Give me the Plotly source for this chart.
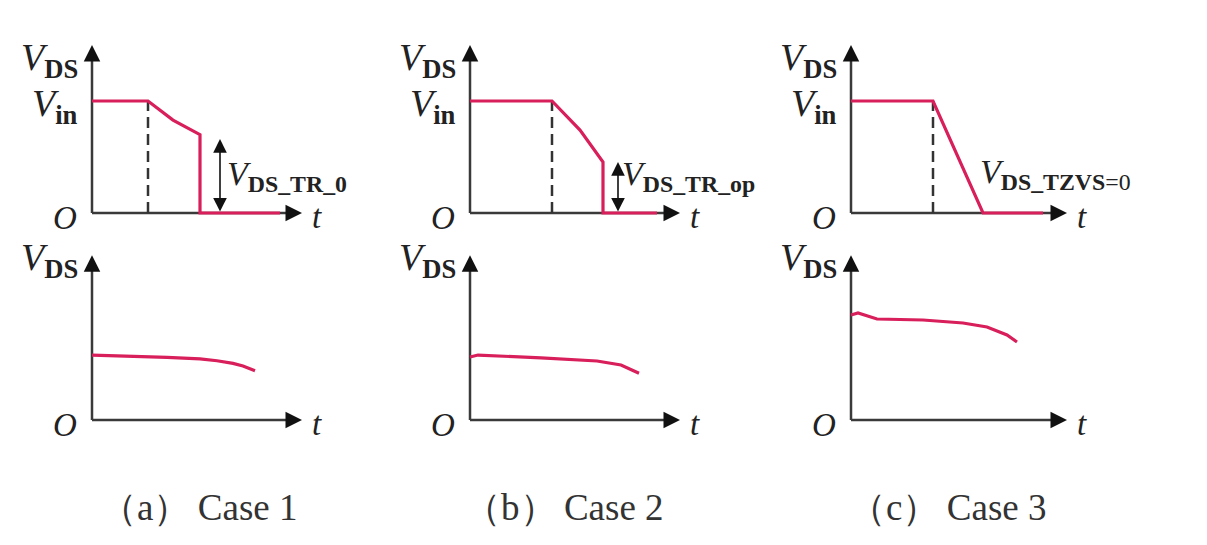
import plotly.graph_objects as go

# the page body adds an 8 px margin, so the figure is drawn 16 px smaller
W, H = 1207, 545
PAD = 8
FW, FH = W - 2 * PAD, H - 2 * PAD

# ---- waveform data (t in arbitrary time units, v in units of Vin) ----
# top row: V_DS during turn-on transition
t_top_1 = [0, 2.8, 4.05, 5.4, 5.4, 9.4]
v_top_1 = [1, 1, 0.83, 0.70, 0, 0]
t_top_2 = [0, 4.1, 5.5, 6.65, 6.65, 9.35]
v_top_2 = [1, 1, 0.74, 0.455, 0, 0]
t_top_3 = [0, 4.1, 6.6, 9.6]
v_top_3 = [1, 1, 0, 0]

# bottom row: V_DS envelope
t_bot_1 = [0, 2.05, 3.75, 5.4, 6.25, 7.05, 7.55, 8.15]
v_bot_1 = [0.580, 0.571, 0.560, 0.545, 0.529, 0.506, 0.482, 0.440]
t_bot_2 = [0, 0.4, 3.55, 6.35, 7.55, 7.9, 8.45]
v_bot_2 = [0.563, 0.580, 0.554, 0.527, 0.491, 0.462, 0.418]
t_bot_3 = [0, 0.35, 1.3, 3.6, 5.6, 6.8, 7.8, 8.3]
v_bot_3 = [0.938, 0.955, 0.902, 0.893, 0.866, 0.830, 0.759, 0.696]

t_switch = [2.8, 4.1, 4.1]          # dashed line: start of the fall
t_tr = [6.4, 7.4]                   # residual-voltage double arrows (case 1, 2)
v_tr = [0.66, 0.455]
t_axis_end = [10.5, 10.5, 10.8]
v_axis_end = [1.5, 1.47]

captions = ["（a）\u2009Case 1", "（b）\u2009Case 2", "（c）\u2009Case 3"]
tr_labels = ["<i>V</i><sub><b>DS_TR_0</b></sub>",
             "<i>V</i><sub><b>DS_TR_op</b></sub>",
             "<i>V</i><sub><b>DS_TZVS</b>=0</sub>"]

tops = [(t_top_1, v_top_1), (t_top_2, v_top_2), (t_top_3, v_top_3)]
bots = [(t_bot_1, v_bot_1), (t_bot_2, v_bot_2), (t_bot_3, v_bot_3)]

RED = '#d81e5b'
AX = '#3a3a3a'
FONT = 'Liberation Serif'

# pixel layout of each small panel (window pixels)
SX, SY = 20, 112
X_RANGE = [-3, 12]
Y_RANGES = [[-0.15, 1.6], [-0.15, 1.55]]
ox_list = [92, 470, 851]
oy_list = [213, 420]


def pxx(x):
    return (x - PAD) / FW


def pxy(y):
    return 1 - (y - PAD) / FH


fig = go.Figure()
annotations = []


def lab(text, x, y, xanchor='center', size=38, color='#222'):
    return dict(text=text, x=pxx(x), y=pxy(y), xref='paper', yref='paper',
                xanchor=xanchor, yanchor='middle', showarrow=False,
                font=dict(family=FONT, size=size, color=color))


for row in range(2):
    for col in range(3):
        k = row * 3 + col + 1
        ox, oy = ox_list[col], oy_list[row]
        yr = Y_RANGES[row]
        xname = 'xaxis' if k == 1 else f'xaxis{k}'
        yname = 'yaxis' if k == 1 else f'yaxis{k}'
        xr = 'x' if k == 1 else f'x{k}'
        yrf = 'y' if k == 1 else f'y{k}'
        fig.update_layout({
            xname: dict(domain=[pxx(ox + X_RANGE[0] * SX), pxx(ox + X_RANGE[1] * SX)],
                        range=X_RANGE, visible=False, anchor=yrf, fixedrange=True),
            yname: dict(domain=[pxy(oy - yr[0] * SY), pxy(oy - yr[1] * SY)],
                        range=yr, visible=False, anchor=xr, fixedrange=True),
        })
        tx = t_axis_end[col]
        ty = v_axis_end[row]
        # axis lines
        fig.add_trace(go.Scatter(x=[0, tx - 0.3], y=[0, 0], mode='lines',
                                 line=dict(color=AX, width=2.5), xaxis=xr, yaxis=yrf,
                                 showlegend=False, hoverinfo='skip'))
        fig.add_trace(go.Scatter(x=[0, 0], y=[0, ty - 0.05], mode='lines',
                                 line=dict(color=AX, width=2.5), xaxis=xr, yaxis=yrf,
                                 showlegend=False, hoverinfo='skip'))
        # arrowheads
        annotations.append(dict(x=tx, y=0, ax=tx - 0.5, ay=0, xref=xr, yref=yrf,
                                axref=xr, ayref=yrf, text='', showarrow=True,
                                arrowhead=2, arrowsize=1.5, arrowwidth=2.2, arrowcolor='#111'))
        annotations.append(dict(x=0, y=ty, ax=0, ay=ty - 0.1, xref=xr, yref=yrf,
                                axref=xr, ayref=yrf, text='', showarrow=True,
                                arrowhead=2, arrowsize=1.5, arrowwidth=2.2, arrowcolor='#111'))

        if row == 0:
            ts = t_switch[col]
            fig.add_trace(go.Scatter(x=[ts, ts], y=[0, 1], mode='lines',
                                     line=dict(color='#333', width=2.5, dash='11px,6px'),
                                     xaxis=xr, yaxis=yrf, showlegend=False, hoverinfo='skip'))
            t, v = tops[col]
            if col < 2:
                annotations.append(dict(x=t_tr[col], y=v_tr[col], ax=t_tr[col], ay=0,
                                        xref=xr, yref=yrf, axref=xr, ayref=yrf, text='',
                                        showarrow=True, arrowside='end+start', arrowhead=2,
                                        arrowsize=1.7, arrowwidth=1.6, arrowcolor='#111'))
        else:
            t, v = bots[col]
        fig.add_trace(go.Scatter(x=t, y=v, mode='lines', line=dict(color=RED, width=3.2),
                                 xaxis=xr, yaxis=yrf, showlegend=False, hoverinfo='skip'))

        # axis labels
        annotations.append(lab('<i>V</i><sub><b>DS</b></sub>', ox - 12,
                               oy - 153 if row == 0 else oy - 160, xanchor='right'))
        annotations.append(lab('<i>O</i>', ox - 27, oy + 5, size=33))
        annotations.append(lab('<i>t</i>', ox + tx * SX + 15, oy + 4, size=33))
        if row == 0:
            annotations.append(lab('<i>V</i><sub><b>in</b></sub>', ox - 12, oy - 107, xanchor='right'))

# transition labels
annotations.append(lab(tr_labels[0], 225, 176, xanchor='left', size=34))
annotations.append(lab(tr_labels[1], 620, 176, xanchor='left', size=34))
annotations.append(lab(tr_labels[2], 978, 174, xanchor='left', size=34))

# captions
for cx, cap in zip([199, 564, 948], captions):
    annotations.append(lab(cap, cx, 507, size=37, color='#333'))

fig.update_layout(width=FW, height=FH, margin=dict(l=0, r=0, t=0, b=0),
                  paper_bgcolor='white', plot_bgcolor='white',
                  annotations=annotations, showlegend=False)

fig.write_html("out.html")
